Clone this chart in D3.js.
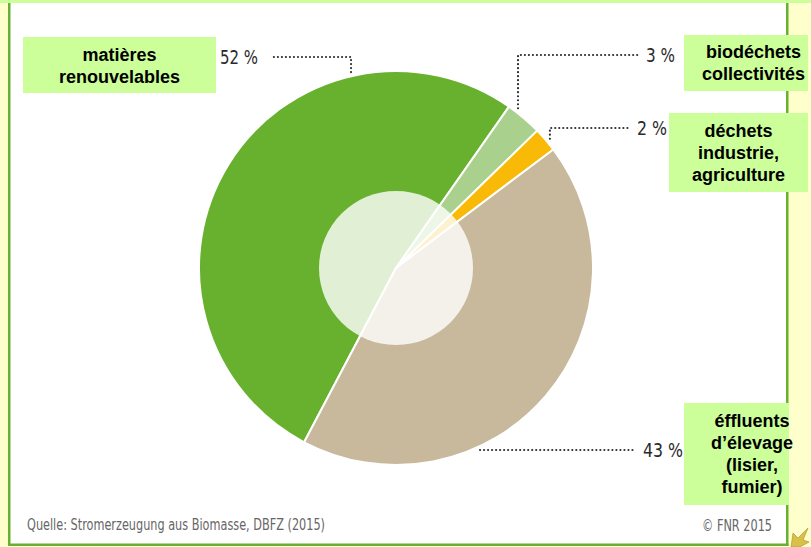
<!DOCTYPE html>
<html>
<head>
<meta charset="utf-8">
<script src="https://cdn.jsdelivr.net/npm/d3@7/dist/d3.min.js"></script>
<style>
  html, body { margin: 0; padding: 0; background: #ffffcc; }
  svg { display: block; }
</style>
</head>
<body>
<script>
// Electricity from biogas: feedstock shares (%)
const categories = [
  ["matières", "renouvelables"],
  ["biodéchets", "collectivités"],
  ["déchets", "industrie,", "agriculture"],
  ["éffluents", "d’élevage", "(lisier,", "fumier)"]
];
const shares = [52, 3, 2, 43];
const percentLabels = ["52 %", "3 %", "2 %", "43 %"];
const sliceColors = ["#68b12f", "#a9d08c", "#f8b907", "#c9b99c"];
const sourceText = "Quelle: Stromerzeugung aus Biomasse, DBFZ (2015)";
const creditText = "© FNR 2015";

const W = 811, H = 547;
const svg = d3.select("body").append("svg").attr("width", W).attr("height", H);

// page frame: pale yellow page, light green band on top, white card with green edges
svg.append("rect").attr("x", 0).attr("y", 0).attr("width", W).attr("height", H).attr("fill", "#ffffcc");
svg.append("rect").attr("x", 0).attr("y", 0).attr("width", W).attr("height", 3).attr("fill", "#ccff99");
svg.append("rect").attr("x", 10).attr("y", 3).attr("width", 776).attr("height", 541).attr("fill", "#ffffff");
svg.append("rect").attr("x", 8).attr("y", 3).attr("width", 2.5).attr("height", 543).attr("fill", "#66b032");
svg.append("rect").attr("x", 786).attr("y", 3).attr("width", 2.5).attr("height", 543).attr("fill", "#66b032");
svg.append("rect").attr("x", 8).attr("y", 543.5).attr("width", 780.5).attr("height", 2.5).attr("fill", "#66b032");

// donut geometry
const cx = 396, cy = 268;
const outerR = 197, innerR = 77;
const startDeg = -152.2;
const rad = d => d * Math.PI / 180;

const pie = d3.pie().sort(null).value(d => d)
  .startAngle(rad(startDeg)).endAngle(rad(startDeg + 360));
const arcs = pie(shares);
const arcGen = d3.arc().innerRadius(0).outerRadius(outerR);

const g = svg.append("g").attr("transform", `translate(${cx},${cy})`);
g.selectAll("path.slice").data(arcs).join("path")
  .attr("class", "slice")
  .attr("d", arcGen)
  .attr("fill", (d, i) => sliceColors[i])
  .attr("stroke", "#ffffff")
  .attr("stroke-width", 2)
  .attr("stroke-linejoin", "round");

// translucent hub
g.append("circle").attr("r", innerR).attr("fill", "#ffffff").attr("fill-opacity", 0.8);

// leader lines: anchor on the rim, optional elbow, end near the percentage
const pointAt = (angle, r) => [Math.sin(angle) * r + cx, -Math.cos(angle) * r + cy];
// where along each slice the leader touches, and how it runs to its label
const leaderSpec = [
  { frac: 0.744, mode: "up", rowY: 57, endX: 270, textX: 258, anchor: "end", len: 38 },
  { frac: 0.22, mode: "up", rowY: 55, endX: 640, textX: 646, anchor: "start", len: 29 },
  { frac: 0.58, mode: "up", rowY: 128, endX: 630, textX: 637, anchor: "start", len: 30 },
  { frac: 0.676, mode: "flat", rowY: 450, endX: 635, textX: 643, anchor: "start", len: 40 }
];

const leaders = svg.append("g");
arcs.forEach((a, i) => {
  const s = leaderSpec[i];
  const ang = a.startAngle + (a.endAngle - a.startAngle) * s.frac;
  const [px, py] = pointAt(ang, outerR + 4);
  let pts;
  if (s.mode === "up") {
    pts = [[px, py], [px, s.rowY], [s.endX, s.rowY]];
  } else {
    const [fx] = pointAt(ang, outerR + 24);
    pts = [[fx, s.rowY], [s.endX, s.rowY]];
  }
  leaders.append("path")
    .attr("d", d3.line()(pts))
    .attr("fill", "none")
    .attr("stroke", "#2e2e2e")
    .attr("stroke-width", 2.2)
    .attr("stroke-linecap", "round")
    .attr("stroke-dasharray", "0.01 4");
  leaders.append("text")
    .attr("x", s.textX).attr("y", s.rowY + 7)
    .attr("text-anchor", s.anchor)
    .attr("font-family", "'DejaVu Sans Condensed', 'DejaVu Sans', sans-serif")
    .attr("font-stretch", "condensed")
    .attr("font-size", 19.5)
    .attr("fill", "#2a2a2a")
    .attr("textLength", s.len).attr("lengthAdjust", "spacingAndGlyphs")
    .text(percentLabels[i]);
});

// category boxes
const boxSpec = [
  { x: 23, y: 37, w: 193, h: 56, tx: 119.5, ty: 61 },
  { x: 684, y: 35, w: 124, h: 56, tx: 753.5, ty: 58 },
  { x: 669, y: 113, w: 139, h: 79, tx: 738.5, ty: 137 },
  { x: 684, y: 403, w: 105, h: 102, tx: 752, ty: 427 }
];
categories.forEach((lines, i) => {
  const b = boxSpec[i];
  svg.append("rect").attr("x", b.x).attr("y", b.y).attr("width", b.w).attr("height", b.h)
    .attr("fill", "#ccff99");
  const t = svg.append("text")
    .attr("text-anchor", "middle")
    .attr("font-family", "'Liberation Sans', Arial, sans-serif")
    .attr("font-weight", "bold")
    .attr("font-size", 18)
    .attr("fill", "#000000");
  lines.forEach((ln, k) => {
    t.append("tspan").attr("x", b.tx).attr("y", b.ty + k * 22).text(ln);
  });
});

// footer
svg.append("text")
  .attr("x", 27).attr("y", 530)
  .attr("font-family", "'DejaVu Sans Condensed', 'DejaVu Sans', sans-serif")
  .attr("font-size", 15)
  .attr("fill", "#666666")
  .attr("textLength", 298).attr("lengthAdjust", "spacingAndGlyphs")
  .text(sourceText);
svg.append("text")
  .attr("x", 702).attr("y", 531)
  .attr("font-family", "'DejaVu Sans Condensed', 'DejaVu Sans', sans-serif")
  .attr("font-size", 15)
  .attr("fill", "#666666")
  .attr("textLength", 70).attr("lengthAdjust", "spacingAndGlyphs")
  .text(creditText);

// small gold emblem in the corner
svg.append("path")
  .attr("d", "M791,547 L793,533 L798,538 L808,528 L803,540 L809,542 L800,547 Z")
  .attr("fill", "#d8c04a")
  .attr("stroke", "#a89020").attr("stroke-width", 0.6);
</script>
</body>
</html>
